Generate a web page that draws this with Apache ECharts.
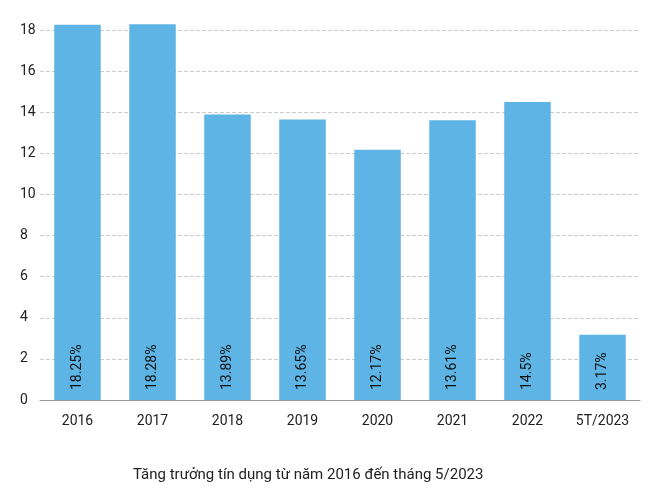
<!DOCTYPE html>
<html>
<head>
<meta charset="utf-8">
<script src="https://cdn.jsdelivr.net/npm/echarts@6/dist/echarts.min.js"></script>
<style>html,body{margin:0;background:#fff}#chart{width:660px;height:500px}</style>
</head>
<body>
<div id="chart"></div>
<script>
// danh mục và số liệu
var categories = ['2016', '2017', '2018', '2019', '2020', '2021', '2022', '5T/2023'];
var values = [18.25, 18.28, 13.89, 13.65, 12.17, 13.61, 14.5, 3.17];
var labels = ['18.25%', '18.28%', '13.89%', '13.65%', '12.17%', '13.61%', '14.5%', '3.17%'];

(function () {
    var myChart = echarts.init(document.getElementById('chart'));
    var option = {
        title: {
            text: 'Tăng trưởng tín dụng từ năm 2016 đến tháng 5/2023',
            left: 128,
            bottom: 12,
            textStyle: { fontFamily: 'Roboto', fontSize: 15, fontWeight: 'normal', color: '#222' }
        },
        grid: { left: 40, right: 20, top: 30, bottom: 100 },
        xAxis: {
            type: 'category',
            data: categories,
            axisTick: { show: false },
            axisLine: { lineStyle: { color: '#999' } },
            axisLabel: { color: '#222', fontFamily: 'Roboto', fontSize: 14, margin: 14 }
        },
        yAxis: {
            type: 'value',
            min: 0, max: 18, interval: 2,
            axisLabel: { color: '#222', fontFamily: 'Roboto', fontSize: 14, align: 'left', margin: 20 },
            splitLine: { lineStyle: { color: '#ccc', type: 'dashed' } }
        },
        series: [{
            type: 'bar',
            data: values,
            barWidth: '62%',
            clip: false,
            itemStyle: { color: '#5db4e5' },
            label: {
                show: true,
                position: 'insideBottom',
                rotate: 90,
                align: 'left',
                verticalAlign: 'middle',
                distance: 10,
                color: '#111',
                fontFamily: 'Roboto',
                fontSize: 14,
                formatter: function (p) { return labels[p.dataIndex]; }
            }
        }]
    };
    myChart.setOption(option);
})();
</script>
</body>
</html>
